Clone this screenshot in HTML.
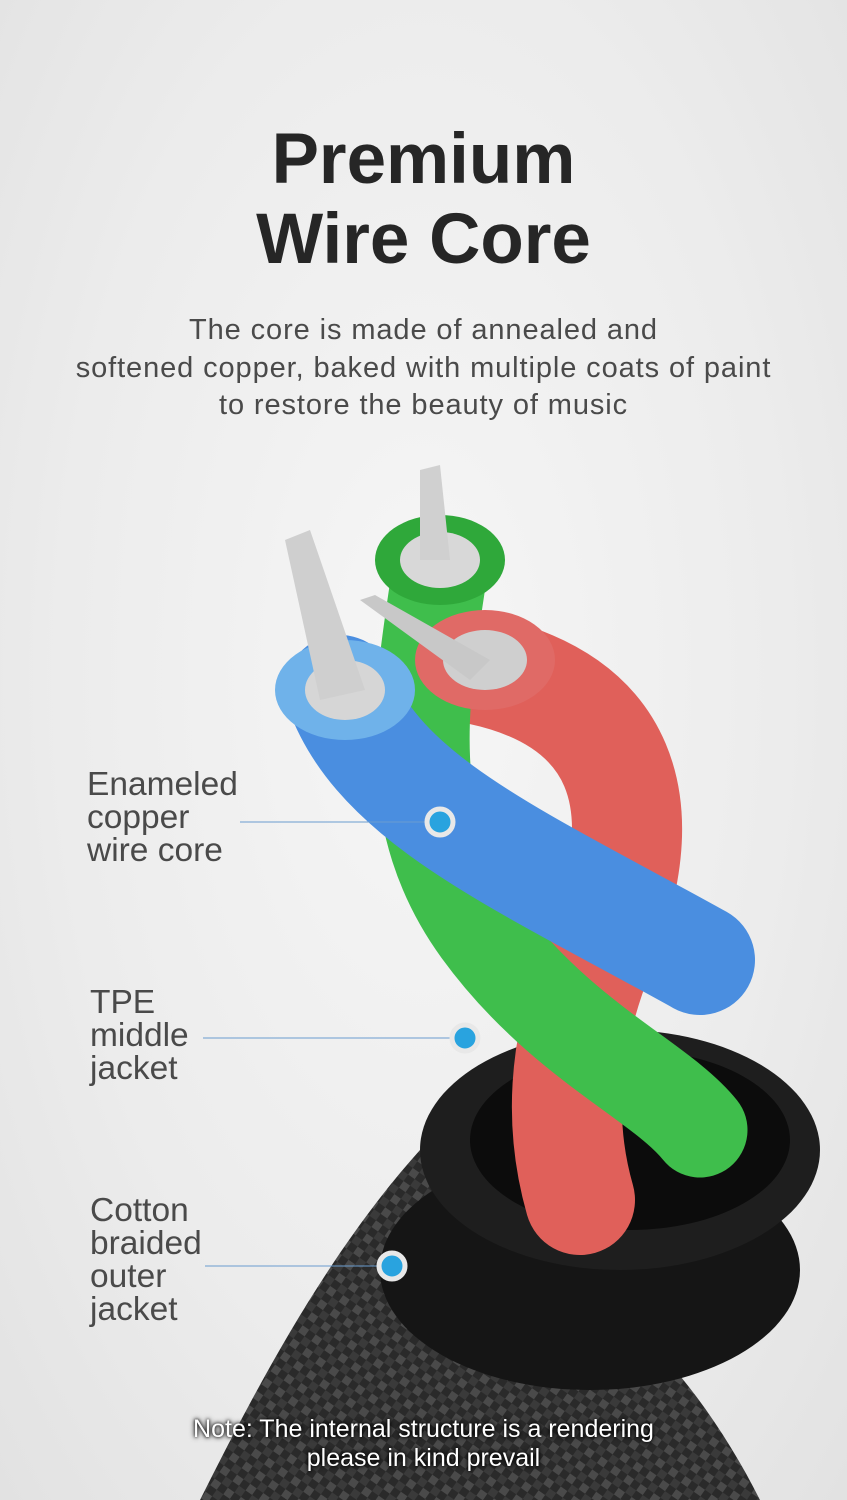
<!DOCTYPE html>
<html><head><meta charset="utf-8"><style>
html,body{margin:0;padding:0}
body{width:847px;height:1500px;overflow:hidden;position:relative;background:radial-gradient(ellipse at 50% 45%,#f6f6f6 0%,#ececec 60%,#e2e2e2 100%);font-family:"Liberation Sans",sans-serif}
.t{position:absolute;left:0;width:847px;text-align:center;color:#262626;font-weight:bold;font-size:71px;line-height:80px}
.s{position:absolute;left:0;width:847px;text-align:center;color:#4a4a4a;font-size:29px;letter-spacing:0.9px;line-height:37.5px;top:312px}
.l{position:absolute;color:#4a4a4a;font-size:33.5px;line-height:33px}
.n{position:absolute;left:0;width:847px;text-align:center;color:#fff;font-size:25px;line-height:29px;top:1415px;text-shadow:0 0 3px #000,0 0 6px #000}
svg{position:absolute;left:0;top:0}
</style></head><body>
<svg width="847" height="1500" viewBox="0 0 847 1500">
<defs>
<pattern id="br" width="16" height="16" patternUnits="userSpaceOnUse" patternTransform="rotate(35)">
<rect width="16" height="16" fill="#2a2a2a"/><rect width="8" height="8" fill="#4a4a4a"/><rect x="8" y="8" width="8" height="8" fill="#3a3a3a"/></pattern>
</defs>
<path d="M200 1500 C260 1380 330 1250 420 1150 L600 1300 C660 1340 720 1420 760 1500 Z" fill="url(#br)"/>
<ellipse cx="590" cy="1270" rx="210" ry="120" fill="#151515"/>
<ellipse cx="620" cy="1150" rx="200" ry="120" fill="#1e1e1e"/>
<ellipse cx="630" cy="1140" rx="160" ry="90" fill="#0c0c0c"/>
<path d="M480 670 C620 700 660 800 600 950 C560 1050 560 1130 580 1200" stroke="#e0605a" stroke-width="110" fill="none" stroke-linecap="round"/>
<path d="M440 570 C420 700 400 820 480 930 C560 1040 660 1080 700 1130" stroke="#3fbe4c" stroke-width="95" fill="none" stroke-linecap="round"/>
<path d="M340 690 C380 800 520 860 700 960" stroke="#4a8ee0" stroke-width="110" fill="none" stroke-linecap="round"/>
<ellipse cx="440" cy="560" rx="65" ry="45" fill="#2fa83a"/><ellipse cx="440" cy="560" rx="40" ry="28" fill="#d8d8d8"/>
<ellipse cx="485" cy="660" rx="70" ry="50" fill="#e06a66"/><ellipse cx="485" cy="660" rx="42" ry="30" fill="#cfcfcf"/>
<ellipse cx="345" cy="690" rx="70" ry="50" fill="#6fb2ea"/><ellipse cx="345" cy="690" rx="40" ry="30" fill="#d6d6d6"/>
<path d="M285 540 L310 530 L365 690 L320 700 Z" fill="#cfcfcf"/>
<path d="M420 470 L440 465 L450 560 L420 560 Z" fill="#d0d0d0"/>
<path d="M360 600 L375 595 L490 660 L470 680 Z" fill="#c8c8c8"/>
<g stroke="#6a9ccf" stroke-width="1"><line x1="240" y1="822" x2="426" y2="822"/><line x1="203" y1="1038" x2="450" y2="1038"/><line x1="205" y1="1266" x2="378" y2="1266"/></g>
<g fill="#29a3df" stroke="#e8e8e8" stroke-width="5">
<circle cx="440" cy="822" r="13"/><circle cx="465" cy="1038" r="13"/><circle cx="392" cy="1266" r="13"/></g>
</svg>
<div class="t" style="top:120px">Premium</div>
<div class="t" style="top:200px">Wire Core</div>
<div class="s">The core is made of annealed and<br>softened copper, baked with multiple coats of paint<br>to restore the beauty of music</div>
<div class="l" style="left:87px;top:768px">Enameled<br>copper<br>wire core</div>
<div class="l" style="left:90px;top:986px">TPE<br>middle<br>jacket</div>
<div class="l" style="left:90px;top:1194px">Cotton<br>braided<br>outer<br>jacket</div>
<div class="n">Note: The internal structure is a rendering<br>please in kind prevail</div>
</body></html>
